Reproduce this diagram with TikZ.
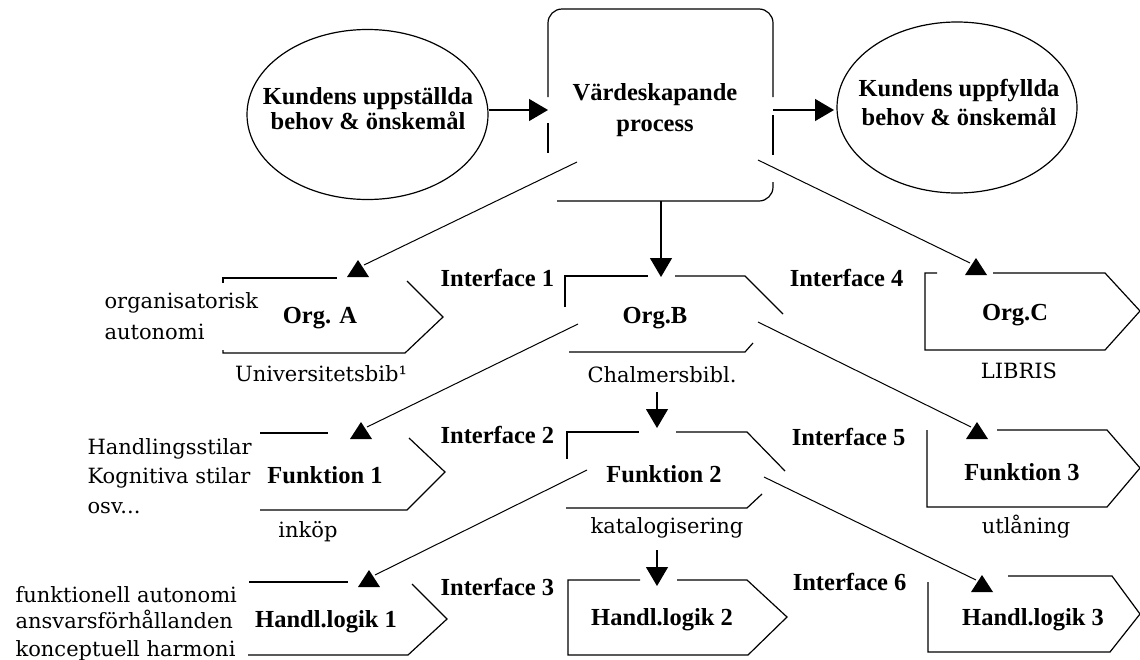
\documentclass[tikz,border=0pt]{standalone}
\usepackage{fontspec}
\setmainfont{Liberation Serif}
\newfontfamily\plainfont{DejaVu Serif}
\usetikzlibrary{shapes.geometric,arrows.meta}

\begin{document}
\begin{tikzpicture}[x=1pt,y=-1pt,
  line width=1.2pt,
  lbl/.style={font=\fontsize{24.5}{28}\selectfont\bfseries, inner sep=0pt, anchor=base},
  lblW/.style={lbl, anchor=base west},
  lblE/.style={lbl, anchor=base east},
  note/.style={font=\plainfont\fontsize{21}{24}\selectfont, inner sep=0pt, anchor=base},
  noteW/.style={note, anchor=base west},
  oval/.style={draw, ellipse, inner sep=0pt},
  flow/.style={-{Triangle[length=19pt,width=22pt]}},
  link/.style={line width=1pt},
  head/.style={fill=black}
]
\useasboundingbox (0,0) rectangle (1140,659);

% ---------- top row: needs, process, fulfilled needs ----------
\node[oval, minimum width=241pt, minimum height=170pt] (need) at (367.5,114.5) {};
\node[oval, minimum width=240pt, minimum height=171pt] (done) at (957,107.5) {};
\node[lbl] (need1) at (368,104) {Kundens uppställda};
\node[lbl] (need2) at (368,129) {behov \& önskemål};
\node[lbl] (done1) at (959,96) {Kundens uppfyllda};
\node[lbl] (done2) at (959,125) {behov \& önskemål};

% value-creating process box (outline interrupted where lines meet it)
\draw[rounded corners=14pt] (548,97) -- (548,9) -- (773,9) -- (773,97);
\draw (548,123) -- (548,153);
\draw (773,115) -- (773,155);
\draw[rounded corners=14pt] (773,182) -- (773,201) -- (557,201);
\node[lbl] (vp1) at (655,100) {Värdeskapande};
\node[lbl] (vp2) at (655,131) {process};

\coordinate (needR) at (489,110);
\coordinate (vpL) at (548,110);
\coordinate (vpR) at (773,110);
\coordinate (doneL) at (834,110);
\draw[flow] (needR) -- (vpL);
\draw[flow] (vpR) -- (doneL);

% ---------- organisation level ----------
% Org. A
\draw (223,283) -- (223,278) -- (337,278);
\draw (223,350) -- (223,353) -- (405,353) -- (443,317) -- (407,281);
\node[lbl] (orgA) at (320,323) {Org. A};
\node[noteW] (orgA1) at (104,308) {organisatorisk};
\node[noteW] (orgA2) at (104,339) {autonomi};
\node[note] (orgAu) at (321,381) {Universitetsbib¹};

% Org.B
\draw (565,307) -- (565,276) -- (648,276);
\draw (675,276) -- (745,276) -- (783,314);
\draw (569,352) -- (745,352) -- (753,343);
\node[lbl] (orgB) at (655,323) {Org.B};
\node[note] (orgBu) at (662,382) {Chalmersbibl.};

% Org.C
\draw (937,273) -- (925,273) -- (925,350) -- (1105,350) -- (1140,311) -- (1105,273) -- (993,273);
\node[lbl] (orgC) at (1015,320) {Org.C};
\node[note] (orgCu) at (1019,378) {LIBRIS};

\node[lblW] (if1) at (440,286) {Interface 1};
\node[lblE] (if4) at (904,286) {Interface 4};

% ---------- function level ----------
% Funktion 1
\draw (260,433) -- (328,433);
\draw (260,510) -- (407,510) -- (445,472) -- (409,438);
\node[lbl] (fn1) at (325,483) {Funktion 1};
\node[noteW] (fn1a) at (87,454) {Handlingsstilar};
\node[noteW] (fn1b) at (87,483) {Kognitiva stilar};
\node[noteW] (fn1c) at (87,513) {osv...};
\node[note] (fn1u) at (308,537) {inköp};

% Funktion 2
\draw (567,459) -- (567,432) -- (639,432);
\draw (676,432) -- (747,432) -- (785,471);
\draw (566,508) -- (747,508) -- (762,494);
\node[lbl] (fn2) at (664,482) {Funktion 2};
\node[note] (fn2u) at (667,533) {katalogisering};

% Funktion 3
\draw (927,430) -- (927,507) -- (1107,507) -- (1140,468) -- (1107,430) -- (997,430);
\node[lbl] (fn3) at (1022,480) {Funktion 3};
\node[note] (fn3u) at (1026,533) {utlåning};

\node[lblW] (if2) at (440,443) {Interface 2};
\node[lblE] (if5) at (906,445) {Interface 5};

% ---------- logic level ----------
% Handl.logik 1
\draw (249,582) -- (348,582);
\draw (248,655) -- (408,655) -- (447,619) -- (412,584);
\node[lbl] (hl1) at (326,627) {Handl.logik 1};
\node[noteW] (hl1a) at (15,602) {funktionell autonomi};
\node[noteW] (hl1b) at (15,628) {ansvarsförhållanden};
\node[noteW] (hl1c) at (15,656) {konceptuell harmoni};

% Handl.logik 2
\draw (640,580) -- (568,580) -- (568,655) -- (748,655) -- (787,617) -- (747,580) -- (677,580);
\node[lbl] (hl2) at (662,625) {Handl.logik 2};

% Handl.logik 3
\draw (928,582) -- (928,652) -- (1110,652) -- (1140,614) -- (1112,576) -- (1008,576);
\node[lbl] (hl3) at (1033,625) {Handl.logik 3};

\node[lblW] (if3) at (440,595) {Interface 3};
\node[lblE] (if6) at (907,590) {Interface 6};

% ---------- vertical flow down the middle ----------
\coordinate (vpB) at (661,201);
\coordinate (orgBtop) at (661,277);
\coordinate (chalB) at (657,392);
\coordinate (fn2top) at (657,428);
\coordinate (katB) at (657,550);
\coordinate (hl2top) at (657,586);
\draw[flow] (vpB) -- (orgBtop);
\draw[flow] (chalB) -- (fn2top);
\draw[flow] (katB) -- (hl2top);

% ---------- diagonal links with upright heads ----------
\coordinate (vpSW) at (577,162);
\coordinate (vpSE) at (758,160);
\coordinate (orgBSW) at (578,324);
\coordinate (orgBSE) at (758,322);
\coordinate (fn2SW) at (587,470);
\coordinate (fn2SE) at (764,477);

\coordinate (hA) at (358,260);
\coordinate (hC) at (976,258);
\coordinate (hF1) at (361,422);
\coordinate (hF3) at (977,422);
\coordinate (hH1) at (369,570);
\coordinate (hH3) at (982,575);

\draw[link] (vpSW) -- ([shift={(6,5)}]hA);
\draw[link] (vpSE) -- ([shift={(-6,5)}]hC);
\draw[link] (orgBSW) -- ([shift={(6,5)}]hF1);
\draw[link] (orgBSE) -- ([shift={(-6,5)}]hF3);
\draw[link] (fn2SW) -- ([shift={(6,5)}]hH1);
\draw[link] (fn2SE) -- ([shift={(-6,5)}]hH3);

\foreach \h in {hA,hC,hF1,hF3,hH1,hH3}
  \fill[head] (\h) -- ++(-11,17) -- ++(22,0) -- cycle;

\end{tikzpicture}
\end{document}
